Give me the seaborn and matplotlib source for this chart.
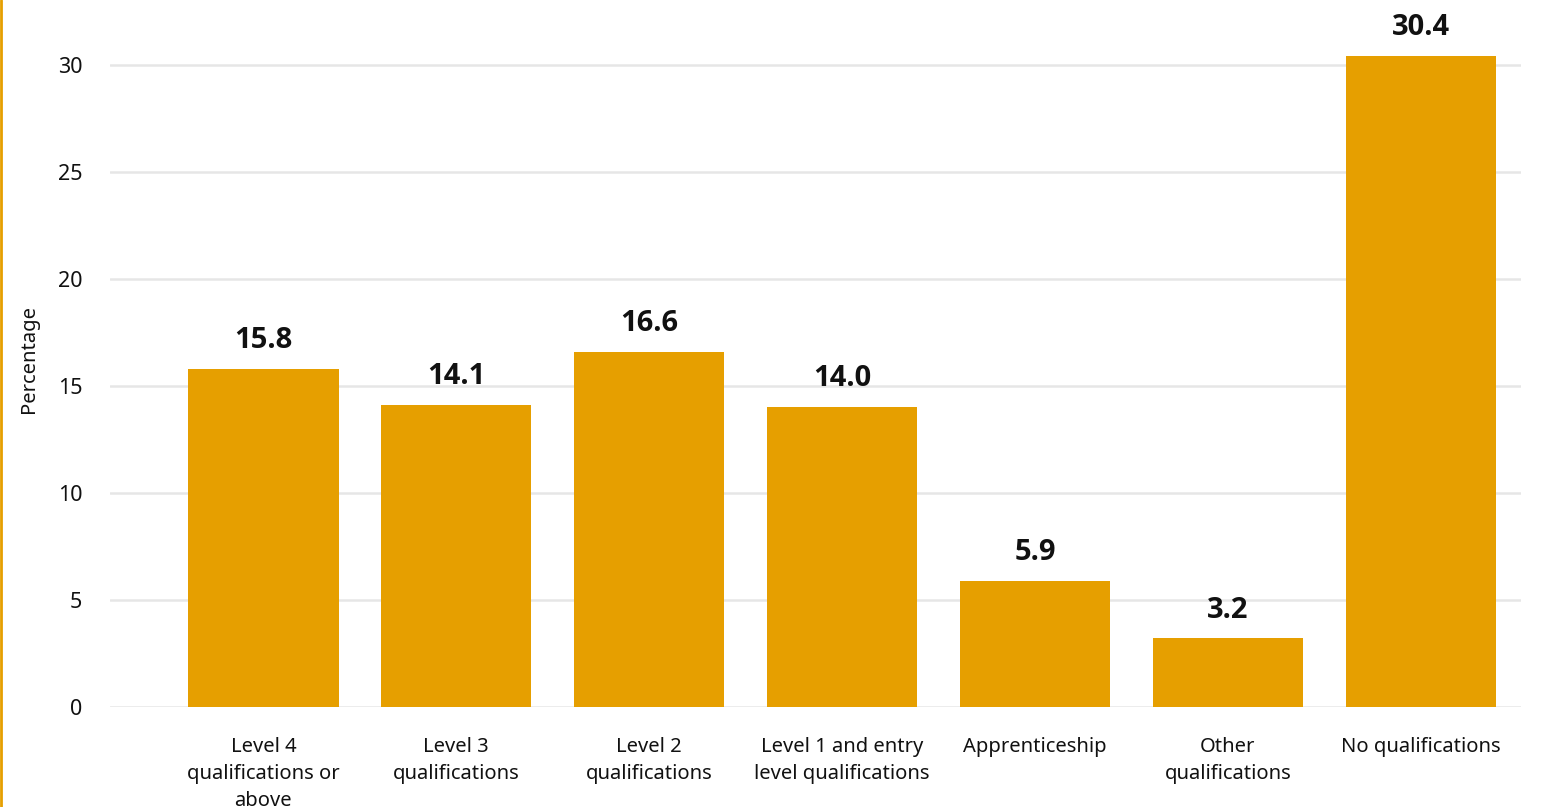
import numpy as np
import pandas as pd
import matplotlib
matplotlib.use('agg')
import matplotlib.pyplot as plt
import seaborn as sns

categories = ["Level 4\nqualifications or\nabove", "Level 3\nqualifications",
              "Level 2\nqualifications", "Level 1 and entry\nlevel qualifications",
              "Apprenticeship", "Other\nqualifications", "No qualifications"]
values = [15.8, 14.1, 16.6, 14.0, 5.9, 3.2, 30.4]
yticks = [0, 5, 10, 15, 20, 25, 30]

df = pd.DataFrame({'category': categories, 'pct': values})

sns.set_style('white')
plt.rcParams['font.family'] = ['Noto Sans', 'DejaVu Sans']

fig = plt.figure(figsize=(15.49, 8.07), dpi=100)
ax = fig.add_axes([0.071, 0.124, 0.911, 0.862])

sns.barplot(data=df, x='category', y='pct', color='#E69F00', width=0.78,
            saturation=1, linewidth=0, ax=ax, zorder=3)

for c in ax.containers:
    ax.bar_label(c, fmt='%.1f', padding=10, fontsize=21, fontweight='bold',
                 family=['Open Sans', 'DejaVu Sans'], color='#111111', clip_on=False)

ax.set_ylim(0, 32.5)
ax.set_xlim(-0.795, 6.52)
ax.set_yticks(yticks)
ax.yaxis.grid(True, color='#e6e6e6', linewidth=1.8, zorder=0)
ax.set_axisbelow(True)
for s in ax.spines.values():
    s.set_visible(False)

ax.tick_params(axis='y', length=0, pad=20, labelsize=15.5, labelcolor='#111111')
ax.tick_params(axis='x', length=0, pad=22, labelsize=14.5, labelcolor='#111111')
for t in ax.get_xticklabels():
    t.set_linespacing(1.45)
    t.set_va('top')

ax.set_xlabel('')
ax.set_ylabel('Percentage', fontsize=14.5, color='#111111')
ax.yaxis.set_label_coords(-0.05, 0.5)

# thin orange border on the left edge
fig.add_artist(plt.Line2D([0.0008, 0.0008], [0, 1], color='#E69F00',
                          linewidth=2, transform=fig.transFigure))

plt.savefig('out.png', dpi=100)
plt.close()
